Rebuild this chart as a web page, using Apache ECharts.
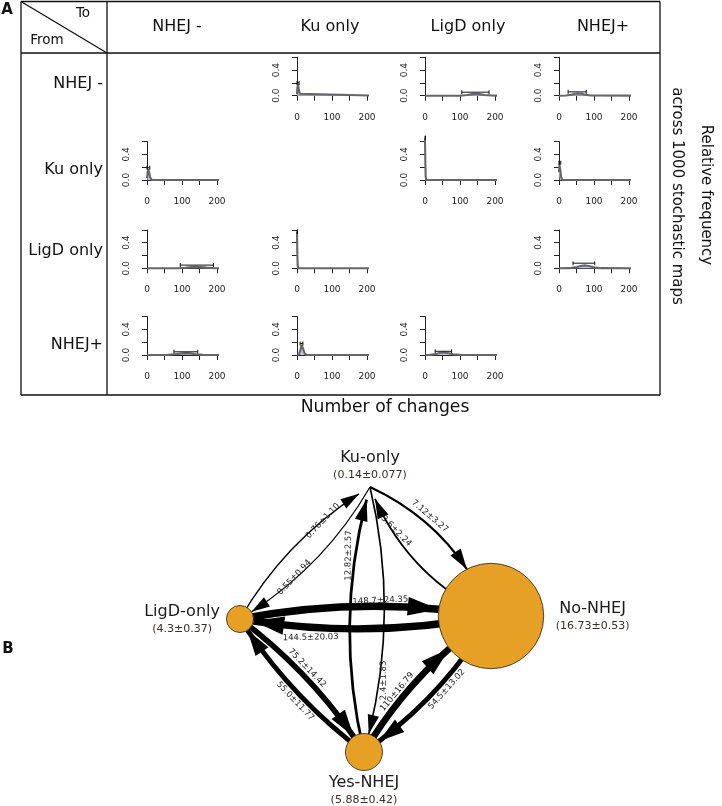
<!DOCTYPE html>
<html><head><meta charset="utf-8">
<script src="https://cdn.jsdelivr.net/npm/echarts@6/dist/echarts.min.js"></script>
<style>html,body{margin:0;padding:0;background:#fff}#c{width:722px;height:806px}</style>
</head><body><div id="c"></div>
<script>
// ===== Panel A data =====
const statesA = ['NHEJ -', 'Ku only', 'LigD only', 'NHEJ+'];
const transFrom = [0, 0, 0, 1, 1, 1, 2, 2, 2, 3, 3, 3];
const transTo   = [1, 2, 3, 0, 2, 3, 0, 1, 3, 0, 1, 2];
const densX = [
  [0, 1, 3, 5, 8, 12, 235],
  [0, 100, 120, 135, 145, 155, 170, 190, 235],
  [0, 20, 35, 45, 55, 65, 75, 90, 235],
  [0, 2, 4, 6, 9, 14, 235],
  [0, 1, 2, 4, 235],
  [0, 1, 2, 4, 6, 10, 235],
  [0, 90, 110, 125, 140, 155, 170, 190, 235],
  [0, 1, 2, 4, 235],
  [0, 30, 50, 65, 75, 85, 100, 120, 235],
  [0, 60, 80, 100, 112, 125, 140, 160, 235],
  [0, 6, 10, 13, 15, 18, 22, 28, 235],
  [0, 15, 30, 45, 55, 65, 80, 100, 235]
];
const densY = [
  [0.02, 0.12, 0.18, 0.10, 0.03, 0, 0],
  [0, 0, 0.01, 0.025, 0.03, 0.025, 0.012, 0.003, 0],
  [0, 0.002, 0.015, 0.03, 0.035, 0.03, 0.015, 0.003, 0],
  [0.03, 0.13, 0.17, 0.12, 0.04, 0, 0],
  [0.65, 0.25, 0.05, 0, 0],
  [0.12, 0.24, 0.25, 0.15, 0.05, 0, 0],
  [0, 0, 0.008, 0.02, 0.025, 0.02, 0.01, 0.002, 0],
  [0.57, 0.2, 0.04, 0, 0],
  [0, 0.002, 0.02, 0.04, 0.045, 0.035, 0.015, 0.002, 0],
  [0, 0.002, 0.012, 0.025, 0.03, 0.025, 0.012, 0.002, 0],
  [0, 0.01, 0.08, 0.16, 0.17, 0.09, 0.02, 0, 0],
  [0, 0.002, 0.015, 0.035, 0.04, 0.03, 0.012, 0.002, 0]
];
const errLo = [0, 105, 26, 0, 0, 0, 95, 0, 40, 77, 9, 29];
const errHi = [6, 183, 78, 8, 1.5, 5, 190, 1.5, 102, 145, 17, 76];
const errY  = [0.2, 0.055, 0.06, 0.19, 0.66, 0.27, 0.05, 0.57, 0.08, 0.05, 0.18, 0.058];
const xTickLabels = [0, 100, 200];
const yTickLabels = [0, 0.4];

// ===== Panel B data =====
const nodeNames = ['No-NHEJ', 'Ku-only', 'LigD-only', 'Yes-NHEJ'];
const nodeMean = [16.73, 0.14, 4.3, 5.88];
const nodeSd = [0.53, 0.077, 0.37, 0.42];
const edgeFrom = ['LigD-only', 'Ku-only', 'Ku-only', 'No-NHEJ', 'Yes-NHEJ', 'Ku-only', 'LigD-only', 'No-NHEJ', 'Yes-NHEJ', 'LigD-only', 'Yes-NHEJ', 'No-NHEJ'];
const edgeTo   = ['Ku-only', 'LigD-only', 'No-NHEJ', 'Ku-only', 'Ku-only', 'Yes-NHEJ', 'No-NHEJ', 'LigD-only', 'LigD-only', 'Yes-NHEJ', 'No-NHEJ', 'Yes-NHEJ'];
const edgeMean = ['0.76', '0.55', '7.12', '3.6', '12.82', '2.4', '148.7', '144.5', '55.0', '75.2', '110', '54.5'];
const edgeSd   = ['1.10', '0.94', '3.27', '2.24', '2.57', '1.83', '24.35', '20.03', '11.77', '14.42', '16.79', '13.02'];

// ===== Layout / style =====
const FONT = 'DejaVu Sans';
const colX = [147, 297, 425, 559];
const rowBase = [95.7, 180, 268.3, 355];
const plotW = 70, plotH = 38.4;
const nodePos = {'No-NHEJ': [491, 616], 'Ku-only': [370, 487], 'LigD-only': [240, 619], 'Yes-NHEJ': [364, 752]};
const nodeLabelPos = {'No-NHEJ': ['right', 48.5], 'Ku-only': ['top', -9], 'LigD-only': ['left', 44], 'Yes-NHEJ': ['bottom', 2]};
const edgeCurve = [0.13, 0.13, 0.2, 0.2, 0.13, 0.13, 0.09, 0.09, 0.09, 0.09, 0.11, 0.11];
const edgeLabPos = ['insideEndTop', 'insideEndBottom', 'middle', 'insideEndBottom', 'insideEndTop', 'insideEndBottom',
                    'insideEndTop', 'insideEndBottom', 'insideMiddleBottom', 'middle', 'middle', 'insideMiddleBottom'];
const edgeLabDist = [[22, 3], [32, 3], [3, 3], [18, 3], [31, 13], [34, 10], [30, 7], [29, 13], [3, 3], [3, 3], [3, 3], [3, 3]];
const ORANGE = '#E6A026';
const ARROW = 'path://M0,0 M20,0 M10,10 L13,20 L7,20 Z';

const grids = [], xAxes = [], yAxes = [], series = [];
for (let i = 0; i < transFrom.length; i++) {
  const r = transFrom[i], c = transTo[i];
  grids.push({left: colX[c], top: rowBase[r] - plotH, width: plotW, height: plotH, outerBoundsMode: 'none'});
  xAxes.push({
    type: 'value', gridIndex: i, min: 0, max: 200, interval: 50, offset: 3,
    axisLine: {show: true, lineStyle: {color: '#222', width: 1}},
    axisTick: {show: true, length: 5, lineStyle: {color: '#222', width: 1}},
    splitLine: {show: false},
    axisLabel: {fontSize: 9, color: '#222', fontFamily: FONT, margin: 14,
      formatter: v => xTickLabels.indexOf(v) >= 0 ? String(v) : ''}
  });
  yAxes.push({
    type: 'value', gridIndex: i, min: 0, max: 0.6, interval: 0.2, offset: 4,
    axisLine: {show: true, lineStyle: {color: '#222', width: 1}},
    axisTick: {show: true, length: 5, lineStyle: {color: '#222', width: 1}},
    splitLine: {show: false},
    axisLabel: {fontSize: 9, color: '#222', fontFamily: FONT, rotate: 90, margin: 12,
      formatter: v => yTickLabels.some(t => Math.abs(t - v) < 1e-9) ? v.toFixed(1) : ''}
  });
  series.push({
    type: 'line', xAxisIndex: i, yAxisIndex: i, clip: false, silent: true, symbol: 'none',
    data: densX[i].map((x, k) => [x, densY[i][k]]),
    lineStyle: {color: '#666', width: 2.1},
    areaStyle: {color: '#c3c6e4', opacity: 1}
  });
  series.push({
    type: 'line', xAxisIndex: i, yAxisIndex: i, clip: false, silent: true,
    symbol: 'rect', symbolSize: [1, 4], showSymbol: true,
    data: [[errLo[i], errY[i]], [errHi[i], errY[i]]],
    lineStyle: {color: '#111', width: 1}, itemStyle: {color: '#111'}
  });
}

// graph coordinate grid (pixel-like)
const gIdx = transFrom.length;
grids.push({left: 0, top: 0, width: 722, height: 806, outerBoundsMode: 'none'});
xAxes.push({type: 'value', gridIndex: gIdx, min: 0, max: 722, show: false});
yAxes.push({type: 'value', gridIndex: gIdx, min: 0, max: 806, inverse: true, show: false});

const nodes = nodeNames.map((n, i) => ({
  name: n,
  value: nodePos[n],
  symbolSize: i === 1 ? 26 : nodeMean[i] * 6.3,
  itemStyle: i === 1 ? {color: 'rgba(0,0,0,0)', borderWidth: 0} : {color: ORANGE, borderColor: '#222', borderWidth: 0.8},
  label: {
    show: true, position: nodeLabelPos[n][0], distance: nodeLabelPos[n][1], align: 'center',
    formatter: '{n|' + n + '}\n{v|(' + nodeMean[i] + '±' + nodeSd[i] + ')}',
    rich: {
      n: {fontSize: 16, color: '#1a1a1a', fontFamily: FONT, lineHeight: 20, align: 'center'},
      v: {fontSize: 11, color: '#3d2e26', fontFamily: FONT, lineHeight: 15, align: 'center'}
    }
  }
}));
const links = edgeFrom.map((s, i) => {
  const m = parseFloat(edgeMean[i]);
  const w = 0.8 + 0.55 * Math.sqrt(m);
  return {
    source: s, target: edgeTo[i],
    symbol: ['none', ARROW], symbolSize: [0, 2 * (16 + 2 * w)],
    lineStyle: {width: w, curveness: edgeCurve[i], color: '#000', opacity: 1},
    label: {show: true, position: edgeLabPos[i], distance: edgeLabDist[i],
      formatter: edgeMean[i] + '±' + edgeSd[i]}
  };
});
series.push({
  type: 'graph', coordinateSystem: 'cartesian2d', xAxisIndex: gIdx, yAxisIndex: gIdx,
  layout: 'none', silent: true, roam: false,
  data: nodes, links: links,
  edgeSymbol: ['none', 'arrow'],
  edgeLabel: {show: true, fontSize: 8.5, color: '#222', fontFamily: FONT},
  emphasis: {disabled: true},
  z: 5
});

// table graphics
const L = (x1, y1, x2, y2) => ({type: 'line', shape: {x1, y1, x2, y2}, style: {stroke: '#111', lineWidth: 1.3}, silent: true});
const T = (text, x, y, size, opts = {}) => ({
  type: 'text', x, y, rotation: opts.rot || 0, silent: true,
  style: {text, fill: '#111', font: (opts.bold ? 'bold ' : '') + size + 'px "' + FONT + '"',
    align: opts.align || 'center', textAlign: opts.align || 'center',
    verticalAlign: 'middle', textVerticalAlign: 'middle'}
});
const colHeadX = [177, 330, 468, 603];
const rowLabY = [84, 170, 251, 345];
const graphics = [
  L(21, 1.5, 660, 1.5), L(21, 395, 660, 395), L(21, 1.5, 21, 395), L(660, 1.5, 660, 395),
  L(21, 53, 660, 53), L(107, 1.5, 107, 395), L(21, 1.5, 107, 53),
  T('A', 7, 10, 15, {bold: true}),
  T('B', 8, 649, 15, {bold: true}),
  T('To', 83, 13, 13.5), T('From', 47, 40, 13.5),
  T('Number of changes', 385, 408, 17.2),
  T('Relative frequency', 706, 195, 15, {rot: -Math.PI / 2}),
  T('across 1000 stochastic maps', 677, 196, 15, {rot: -Math.PI / 2})
];
statesA.forEach((s, i) => {
  graphics.push(T(s, colHeadX[i], 27, 16));
  graphics.push(T(s, 103, rowLabY[i], 16, {align: 'right'}));
});

const chart = echarts.init(document.getElementById('c'), null, {renderer: 'canvas'});
chart.setOption({
  animation: false,
  textStyle: {fontFamily: FONT},
  grid: grids, xAxis: xAxes, yAxis: yAxes, series: series,
  graphic: graphics
});
</script></body></html>
